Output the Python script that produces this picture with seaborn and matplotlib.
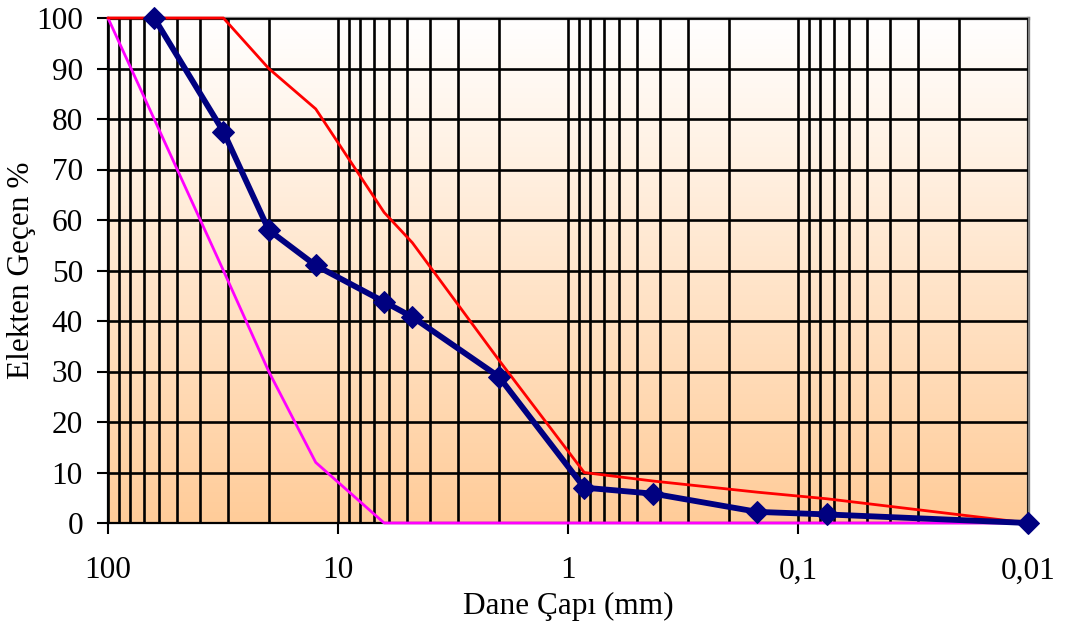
import numpy as np
import pandas as pd
import matplotlib
matplotlib.use("Agg")
import matplotlib.pyplot as plt
from matplotlib.colors import LinearSegmentedColormap
from matplotlib.ticker import FixedLocator, FixedFormatter, LogLocator, NullFormatter
import seaborn as sns

# ---- data ----
sample_d = [63, 31.5, 20, 12.5, 6.3, 4.75, 2.0, 0.85, 0.425, 0.15, 0.075, 0.01]
sample_p = [100, 77.5, 58, 51, 43.8, 40.8, 29, 7, 5.8, 2.2, 1.7, 0]

upper_d = [100, 31.5, 20, 12.5, 6.3, 4.75, 2.0, 0.85, 0.425, 0.15, 0.075, 0.01]
upper_p = [100, 100, 90, 82, 61.5, 55.5, 32.3, 10, 8.3, 6.1, 4.8, 0]

lower_d = [100, 31.5, 20, 12.5, 6.3, 0.01]
lower_p = [100, 50, 30, 12, 0, 0]

x_ticks = [100, 10, 1, 0.1, 0.01]
x_tick_labels = ["100", "10", "1", "0,1", "0,01"]
y_ticks = [0, 10, 20, 30, 40, 50, 60, 70, 80, 90, 100]

x_label = "Dane Çapı (mm)"
y_label = "Elekten Geçen %"

# ---- style ----
sns.set_theme(style="white")
plt.rcParams["font.family"] = ["Liberation Serif", "DejaVu Serif"]

FS = 22.5

fig = plt.figure(figsize=(10.7, 6.35), dpi=100)
ax = fig.add_axes([108 / 1070, 1 - 523 / 635, (1028 - 108) / 1070, (523 - 18) / 635])

# gradient background (white at top, peach at bottom)
cmap = LinearSegmentedColormap.from_list("bg", ["#FFFFFF", "#FFCC99"])
grad = np.linspace(0, 1, 256).reshape(-1, 1)
ax.imshow(grad, cmap=cmap, aspect="auto", extent=[0, 1, 0, 1], origin="upper",
          transform=ax.transAxes, zorder=0, interpolation="bilinear")

ax.set_xscale("log")
ax.set_xlim(100, 0.01)
ax.set_ylim(0, 100)

# grid
ax.xaxis.set_major_locator(FixedLocator(x_ticks))
ax.xaxis.set_major_formatter(FixedFormatter(x_tick_labels))
ax.xaxis.set_minor_locator(LogLocator(base=10, subs=np.arange(2, 10), numticks=20))
ax.xaxis.set_minor_formatter(NullFormatter())
ax.set_yticks(y_ticks)
ax.grid(True, which="both", axis="both", color="black", linewidth=1.9, zorder=1)
ax.set_axisbelow(False)
for gl in ax.get_xgridlines() + ax.get_ygridlines():
    gl.set_zorder(1)

df_s = pd.DataFrame({"d": sample_d, "p": sample_p})
df_u = pd.DataFrame({"d": upper_d, "p": upper_p})
df_l = pd.DataFrame({"d": lower_d, "p": lower_p})

sns.lineplot(data=df_l, x="d", y="p", ax=ax, color="#FF00FF", linewidth=2.0,
             sort=False, clip_on=False, zorder=5)
sns.lineplot(data=df_u, x="d", y="p", ax=ax, color="#FF0000", linewidth=2.0,
             sort=False, clip_on=False, zorder=5)
sns.lineplot(data=df_s, x="d", y="p", ax=ax, color="#000080", linewidth=4.2,
             marker="D", markersize=11, markeredgecolor="#000080",
             sort=False, clip_on=False, zorder=6)

# spines
for s in ["left", "bottom"]:
    ax.spines[s].set_color("black")
    ax.spines[s].set_linewidth(1.6)
for s in ["top", "right"]:
    ax.spines[s].set_color("#808080")
    ax.spines[s].set_linewidth(2.4)

ax.tick_params(axis="y", which="major", direction="out", length=8, width=1.5,
               color="black", left=True, pad=10, labelsize=FS, labelcolor="black")
ax.tick_params(axis="x", which="major", direction="out", length=8, width=1.5,
               color="black", bottom=True, pad=16, labelsize=FS, labelcolor="black")
ax.tick_params(axis="x", which="minor", length=0)

ax.set_xlabel(x_label, fontsize=FS, color="black")
ax.set_ylabel(y_label, fontsize=FS, color="black")
ax.xaxis.set_label_coords(0.5, -0.137)
ax.yaxis.set_label_coords(-0.078, 0.5)

fig.savefig("out.png", dpi=100)
